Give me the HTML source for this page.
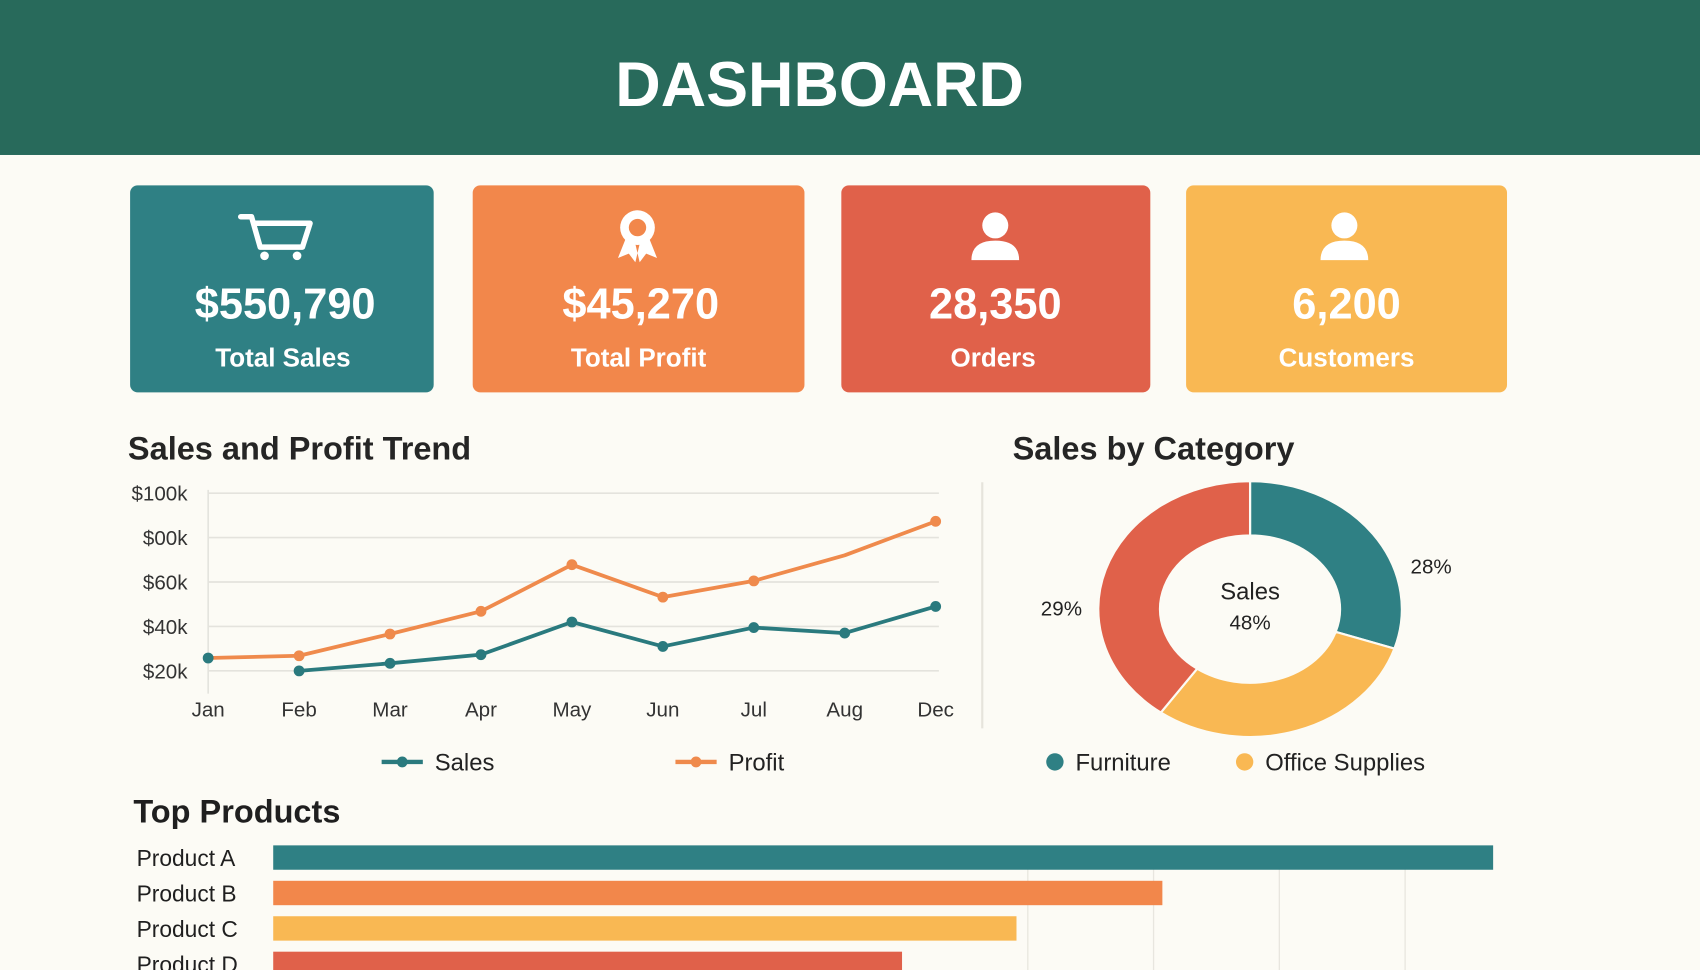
<!DOCTYPE html>
<html><head><meta charset="utf-8"><style>
html,body{margin:0;padding:0;background:#fcfbf5;}
svg{display:block;}
text{font-family:"Liberation Sans","DejaVu Sans",sans-serif;}
</style></head><body>
<svg id="root" width="1700" height="970" viewBox="0 0 1568 895" preserveAspectRatio="none">
<rect x="0" y="0" width="1568" height="895" fill="#fcfbf5"/>
<g>
<rect x="0" y="0" width="1568" height="143" fill="#286a5b"/>
<text x="756" y="98" text-anchor="middle" font-size="58" font-weight="bold" fill="#fff">DASHBOARD</text>
</g>
<g>
<rect x="120" y="171" width="280" height="191" rx="7" fill="#2f8084"/>
<g fill="none" stroke="#fff" stroke-width="5" stroke-linejoin="round" stroke-linecap="round">
<path d="M222 200 L232 200 L240 228 L279 228 L286 206 L236 206"/></g>
<circle cx="244" cy="236" r="4" fill="#fff"/><circle cx="274" cy="236" r="4" fill="#fff"/>
<text x="263" y="294" text-anchor="middle" font-size="40" font-weight="bold" fill="#fff">$550,790</text>
<text x="261" y="338" text-anchor="middle" font-size="24" font-weight="bold" fill="#fff">Total Sales</text>
</g>
<g>
<rect x="436" y="171" width="306" height="191" rx="7" fill="#f2874b"/>
<g>
<path d="M578 218 L570 238 L580 234 L586 242 L590 225 Z M598 218 L606 238 L596 234 L590 242 L586 225 Z" fill="#fff"/>
<circle cx="588" cy="210" r="16" fill="#fff"/><circle cx="588" cy="210" r="8" fill="#f2874b"/></g>
<text x="591" y="294" text-anchor="middle" font-size="40" font-weight="bold" fill="#fff">$45,270</text>
<text x="589" y="338" text-anchor="middle" font-size="24" font-weight="bold" fill="#fff">Total Profit</text>
</g>
<g>
<rect x="776" y="171" width="285" height="191" rx="7" fill="#e0614a"/>
<g fill="#fff"><circle cx="918" cy="208" r="12"/><path d="M896 240 Q896 222 918 222 Q940 222 940 240 Z"/></g>
<text x="918" y="294" text-anchor="middle" font-size="40" font-weight="bold" fill="#fff">28,350</text>
<text x="916" y="338" text-anchor="middle" font-size="24" font-weight="bold" fill="#fff">Orders</text>
</g>
<g>
<rect x="1094" y="171" width="296" height="191" rx="7" fill="#f9b853"/>
<g fill="#fff"><circle cx="1240" cy="208" r="12"/><path d="M1218 240 Q1218 222 1240 222 Q1262 222 1262 240 Z"/></g>
<text x="1242" y="294" text-anchor="middle" font-size="40" font-weight="bold" fill="#fff">6,200</text>
<text x="1242" y="338" text-anchor="middle" font-size="24" font-weight="bold" fill="#fff">Customers</text>
</g>
<text x="118" y="424" font-size="30" font-weight="bold" fill="#252525">Sales and Profit Trend</text>
<g id="trend"></g>
<line x1="906" y1="445" x2="906" y2="672" stroke="#e6e4dc" stroke-width="2"/>
<text x="934" y="424" font-size="30" font-weight="bold" fill="#252525">Sales by Category</text>
<g id="donut"></g>
<text x="123" y="759" font-size="30" font-weight="bold" fill="#1f1f1f">Top Products</text>
<g id="bars"></g>
</svg>
<script>
const months = ["Jan","Feb","Mar","Apr","May","Jun","Jul","Aug","Dec"];
const salesValues = [null,20,23.4,27.3,42,31,39.5,37,49];
const profitValues = [25.8,26.8,36.6,46.8,67.8,53.2,60.5,72,87.3];
const yTicks = [20,40,60,80,100];
const yTickLabels = ["$20k","$40k","$60k","$00k","$100k"];
const categories = ["Furniture","Office Supplies","Technology"];
const categoryShares = [30,30,40];
const categoryLabels = ["28%","29%","29%"];
const products = ["Product A","Product B","Product C","Product D"];
const productValues = [97,70.7,59.1,50];
const productTicks = [60,70,80,90];

const NS="http://www.w3.org/2000/svg";
function mk(parent,tag,attrs,text){const e=document.createElementNS(NS,tag);for(const k in attrs)e.setAttribute(k,attrs[k]);if(text!==undefined)e.textContent=text;parent.appendChild(e);return e;}

// trend chart
const tg=document.getElementById('trend');
const x0=192,x1=863;
const xS=i=>x0+i*(x1-x0)/(months.length-1);
const yS=v=>619-(v-20)*41/20;
yTicks.forEach((t,i)=>{
  const l=mk(tg,'line',{x1:192,x2:866,y1:yS(t),y2:yS(t),stroke:'#e4e3dd','stroke-width':1.5});
  
  
  const tx=mk(tg,'text',{x:173,y:yS(t)+7,'text-anchor':'end','font-size':19,fill:'#333'},yTickLabels[i]);
  
  
});
const ax=mk(tg,'line',{x1:192,x2:192,y1:452,y2:640,stroke:'#e4e3dd','stroke-width':1.5});


months.forEach((m,i)=>{
  const tx=mk(tg,'text',{x:xS(i),y:661,'text-anchor':'middle','font-size':19,fill:'#333'},m);
  
  
});
function series(vals,color,name,markerSkip){
  let d='';vals.forEach((v,i)=>{if(v==null)return;d+=(d?'L':'M')+xS(i)+' '+yS(v)+' ';});
  const p=mk(tg,'path',{d:d,fill:'none',stroke:color,'stroke-width':3.5,'stroke-linejoin':'round'});
  
  
  vals.forEach((v,i)=>{if(v==null||markerSkip.includes(i))return;
    const c=mk(tg,'circle',{cx:xS(i),cy:yS(v),r:5,fill:(name==='profit'&&i===0)?'#2a7a7e':color});
    
    
  });
}
series(profitValues,'#ef8a4c','profit',[7]);
series(salesValues,'#2a7a7e','sales',[]);
// legend
[[352,'#2a7a7e','Sales','legend-sales'],[623,'#ef8a4c','Profit','legend-profit']].forEach(a=>{
  const g=mk(tg,'g',{});
  
  
  mk(g,'line',{x1:a[0],x2:a[0]+38,y1:703,y2:703,stroke:a[1],'stroke-width':4});
  mk(g,'circle',{cx:a[0]+19,cy:703,r:5,fill:a[1]});
  mk(g,'text',{x:a[0]+49,y:711,'font-size':22,fill:'#222'},a[2]);
});

// donut
const dg=document.getElementById('donut');
const cx=1153,cy=562,rx=140,ry=118,irx=83,iry=68;
const colors=['#2f8084','#f9b853','#e0614a'];
const total=categoryShares.reduce((a,b)=>a+b,0);
let acc=0;
function pt(a,rX,rY){return [cx+rX*Math.sin(a),cy-rY*Math.cos(a)];}
categoryShares.forEach((s,i)=>{
  const a0=acc/total*2*Math.PI;acc+=s;const a1=acc/total*2*Math.PI;
  const lg=(a1-a0)>Math.PI?1:0;
  const p0=pt(a0,rx,ry),p1=pt(a1,rx,ry),q1=pt(a1,irx,iry),q0=pt(a0,irx,iry);
  const d=`M${p0} A${rx} ${ry} 0 ${lg} 1 ${p1} L${q1} A${irx} ${iry} 0 ${lg} 0 ${q0} Z`;
  const p=mk(dg,'path',{d:d,fill:colors[i],stroke:'#fcfbf5','stroke-width':2});
  
  
});
const l1=mk(dg,'text',{x:1320,y:529,'text-anchor':'middle','font-size':19,fill:'#222'},categoryLabels[0]);


const l2=mk(dg,'text',{x:979,y:568,'text-anchor':'middle','font-size':19,fill:'#222'},categoryLabels[1]);


const c1=mk(dg,'text',{x:1153,y:553,'text-anchor':'middle','font-size':22,fill:'#222'},'Sales');


const c2=mk(dg,'text',{x:1153,y:581,'text-anchor':'middle','font-size':19,fill:'#222'},'48%');


[[973,colors[0],categories[0]],[1148,colors[1],categories[1]]].forEach(a=>{
  const g=mk(dg,'g',{});
  
  
  mk(g,'circle',{cx:a[0],cy:703,r:8,fill:a[1]});
  mk(g,'text',{x:a[0]+19,y:711,'font-size':22,fill:'#222'},a[2]);
});

// bars
const bg=document.getElementById('bars');
const bx=v=>252+v*11.6;
productTicks.forEach(t=>{
  const l=mk(bg,'line',{x1:bx(t),x2:bx(t),y1:785,y2:895,stroke:'#e8e6df','stroke-width':1.2});
  
  
});
const bcol=['#2f8084','#f2874b','#f9b853','#e0614a'];
products.forEach((p,i)=>{
  const y=780+i*32.7;
  const r=mk(bg,'rect',{x:252,y:y,width:bx(productValues[i])-252,height:22.5,fill:bcol[i]});
  
  
  const t=mk(bg,'text',{x:126,y:y+19,'font-size':21,fill:'#1f1f1f'},p);
  
  
});
</script>
</body></html>
